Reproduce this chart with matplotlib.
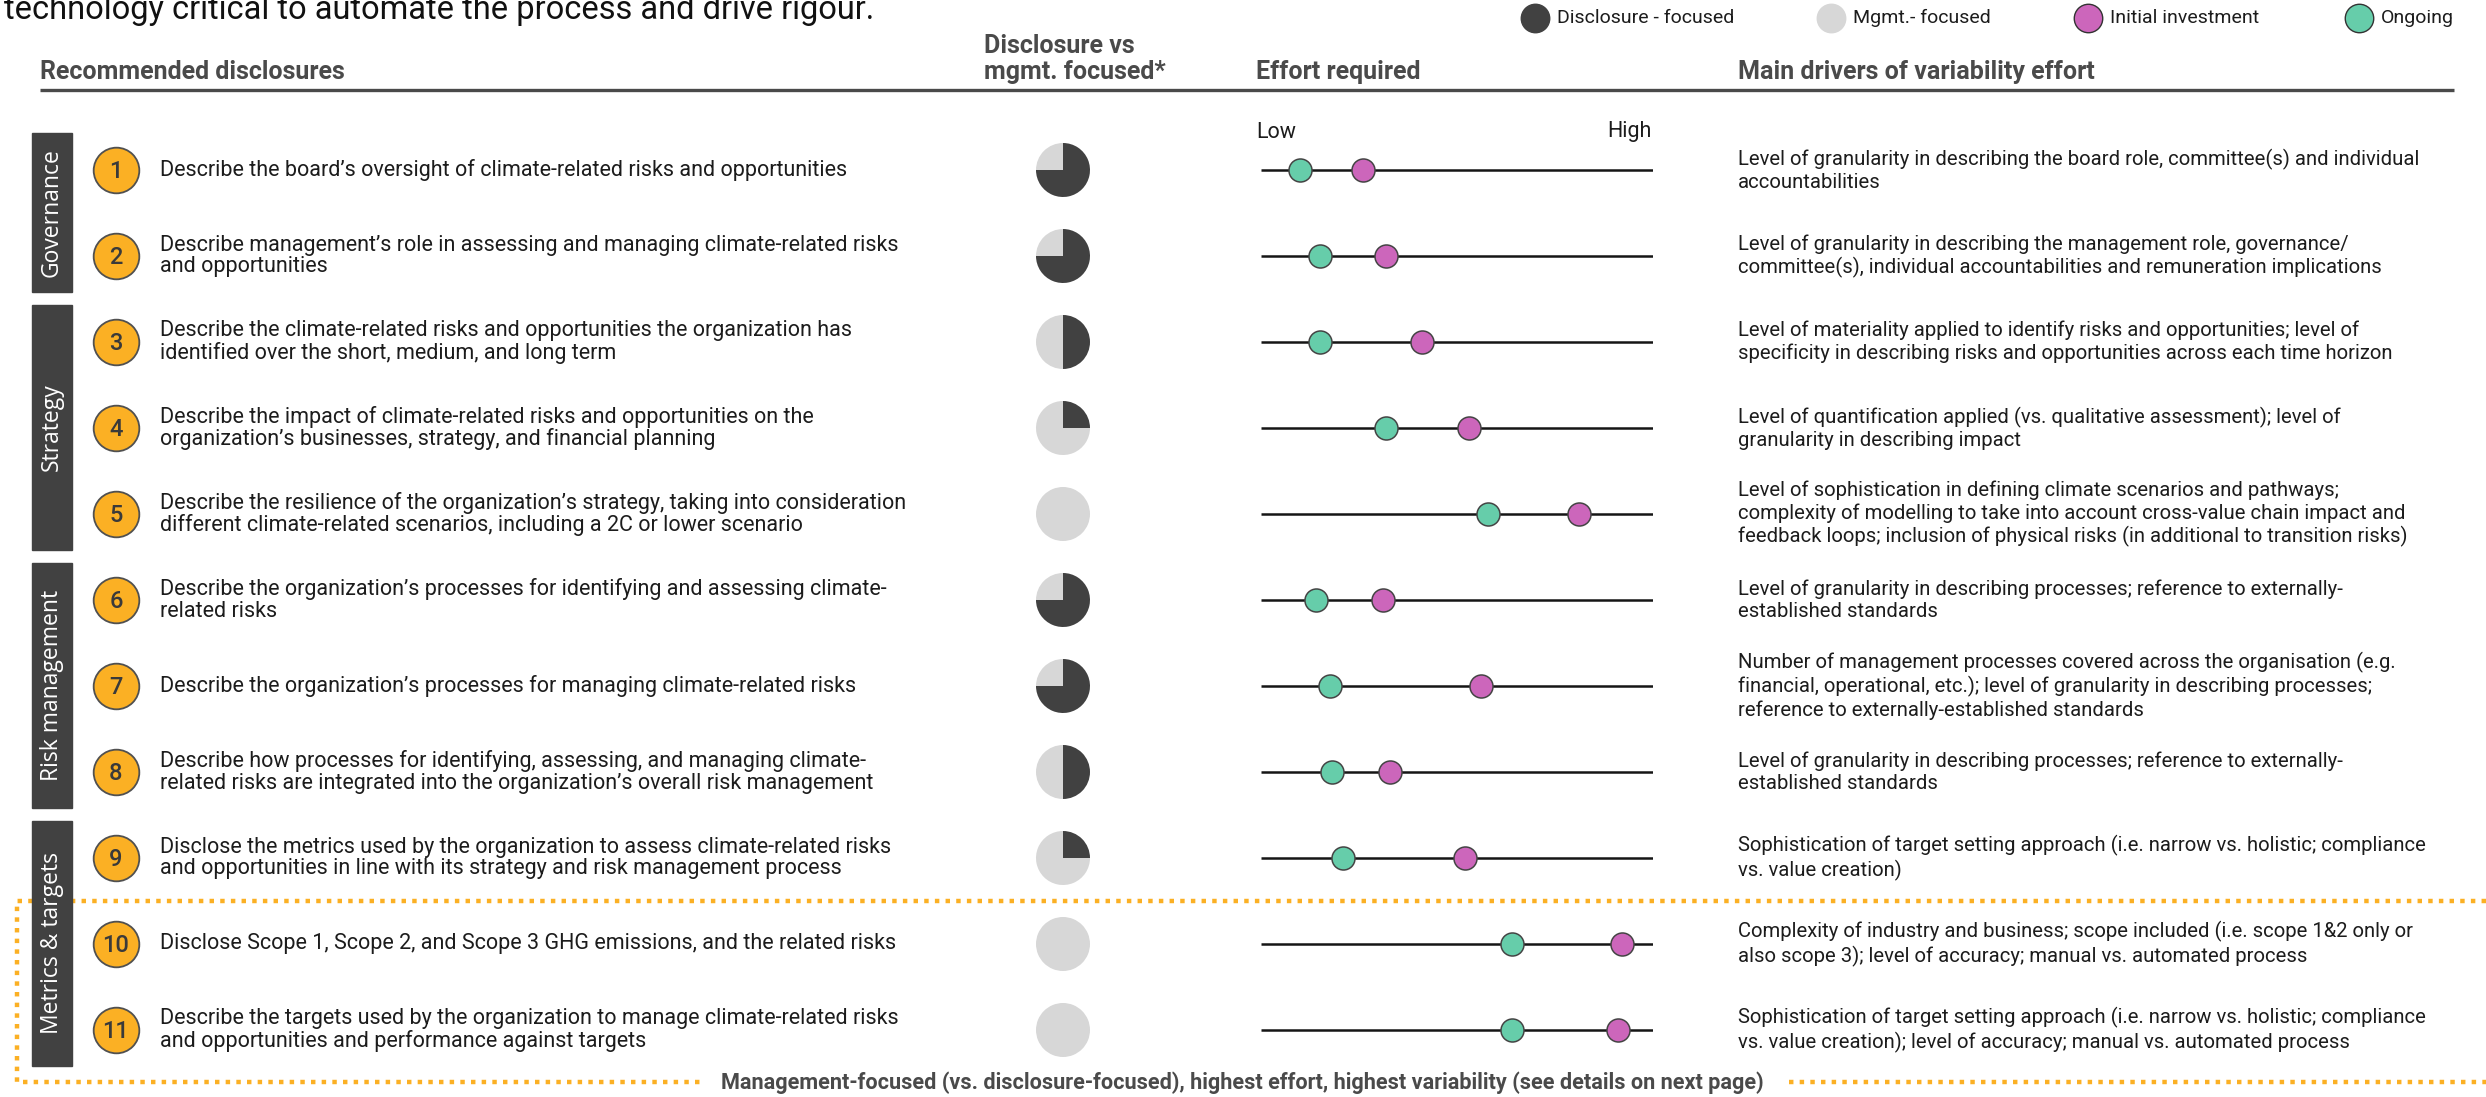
import matplotlib.pyplot as plt
from matplotlib.patches import Rectangle
import numpy as np

W, H = 2486, 1097

numbers = list(range(1, 12))
pillars = ["Governance", "Strategy", "Risk management", "Metrics & targets"]
pillar_rows = [(0, 1), (2, 4), (5, 7), (8, 10)]

disclosures = [
    "Describe the board’s oversight of climate-related risks and opportunities",
    "Describe management’s role in assessing and managing climate-related risks\nand opportunities",
    "Describe the climate-related risks and opportunities the organization has\nidentified over the short, medium, and long term",
    "Describe the impact of climate-related risks and opportunities on the\norganization’s businesses, strategy, and financial planning",
    "Describe the resilience of the organization’s strategy, taking into consideration\ndifferent climate-related scenarios, including a 2C or lower scenario",
    "Describe the organization’s processes for identifying and assessing climate-\nrelated risks",
    "Describe the organization’s processes for managing climate-related risks",
    "Describe how processes for identifying, assessing, and managing climate-\nrelated risks are integrated into the organization’s overall risk management",
    "Disclose the metrics used by the organization to assess climate-related risks\nand opportunities in line with its strategy and risk management process",
    "Disclose Scope 1, Scope 2, and Scope 3 GHG emissions, and the related risks",
    "Describe the targets used by the organization to manage climate-related risks\nand opportunities and performance against targets",
]

drivers = [
    "Level of granularity in describing the board role, committee(s) and individual\naccountabilities",
    "Level of granularity in describing the management role, governance/\ncommittee(s), individual accountabilities and remuneration implications",
    "Level of materiality applied to identify risks and opportunities; level of\nspecificity in describing risks and opportunities across each time horizon",
    "Level of quantification applied (vs. qualitative assessment); level of\ngranularity in describing impact",
    "Level of sophistication in defining climate scenarios and pathways;\ncomplexity of modelling to take into account cross-value chain impact and\nfeedback loops; inclusion of physical risks (in additional to transition risks)",
    "Level of granularity in describing processes; reference to externally-\nestablished standards",
    "Number of management processes covered across the organisation (e.g.\nfinancial, operational, etc.); level of granularity in describing processes;\nreference to externally-established standards",
    "Level of granularity in describing processes; reference to externally-\nestablished standards",
    "Sophistication of target setting approach (i.e. narrow vs. holistic; compliance\nvs. value creation)",
    "Complexity of industry and business; scope included (i.e. scope 1&2 only or\nalso scope 3); level of accuracy; manual vs. automated process",
    "Sophistication of target setting approach (i.e. narrow vs. holistic; compliance\nvs. value creation); level of accuracy; manual vs. automated process",
]

# share of disclosure-focused work (rest is mgmt.-focused)
disclosure_share = [0.75, 0.75, 0.5, 0.25, 0.0, 0.75, 0.75, 0.5, 0.25, 0.0, 0.0]
# effort on a 0 (low) .. 1 (high) scale
effort_ongoing = [0.10, 0.15, 0.15, 0.32, 0.58, 0.14, 0.175, 0.18, 0.21, 0.64, 0.64]
effort_initial = [0.26, 0.32, 0.41, 0.53, 0.81, 0.31, 0.56, 0.33, 0.52, 0.92, 0.91]

legend_labels = ["Disclosure - focused", "Mgmt.- focused", "Initial investment", "Ongoing"]

DARK = "#414141"
LIGHT = "#d7d7d7"
PINK = "#cc66bb"
GREEN = "#66cdaa"
ORANGE = "#fbb024"
HEAD = "#4a4a4a"
TXT = "#1c1c1c"

plt.rcParams['font.family'] = ['Roboto', 'DejaVu Sans']

fig = plt.figure(figsize=(W / 100, H / 100), dpi=100)
ax = fig.add_axes([0, 0, 1, 1])
ax.set_xlim(0, W)
ax.set_ylim(H, 0)
ax.axis('off')

row_y = 170 + 86 * np.arange(len(numbers))

# sentence carried over from the text above
ax.text(4, 19, "technology critical to automate the process and drive rigour.",
        fontsize=23.5, color="#111111", va='baseline')

# legend
leg_x = [1535, 1831, 2088, 2359]
leg_fc = [DARK, LIGHT, PINK, GREEN]
leg_ec = [DARK, LIGHT, "#333333", "#333333"]
for x, lab, fc, ec in zip(leg_x, legend_labels, leg_fc, leg_ec):
    ax.scatter(x, 18, s=420, c=fc, edgecolors=ec, linewidths=1.0, clip_on=False)
    ax.text(x + 22, 18, lab, fontsize=14, color=TXT, va='center')

# column headers
hkw = dict(fontsize=18, fontweight='bold', color=HEAD, va='baseline')
ax.text(40, 79, "Recommended disclosures", **hkw)
ax.text(984, 53, "Disclosure vs", **hkw)
ax.text(984, 79, "mgmt. focused*", **hkw)
ax.text(1256, 79, "Effort required", **hkw)
ax.text(1738, 79, "Main drivers of variability effort", **hkw)
ax.plot([40, 2454], [90, 90], color=HEAD, lw=2.4, solid_capstyle='butt')

ax.text(1256, 132, "Low", fontsize=15.5, color=TXT, va='center', ha='left')
ax.text(1652, 132, "High", fontsize=15.5, color=TXT, va='center', ha='right')

# highlight box around the management-focused disclosures
box_top = (row_y[8] + row_y[9]) / 2
dot_kw = dict(color=ORANGE, lw=3.2, linestyle=(0, (1.0, 1.4)), zorder=1)
ax.plot([W, 17, 17, 705], [box_top, box_top, 1082, 1082], **dot_kw)
ax.plot([1789, W], [1082, 1082], **dot_kw)
ax.text(1242, 1083, "Management-focused (vs. disclosure-focused), highest effort, "
        "highest variability (see details on next page)",
        fontsize=15.6, fontweight='bold', color=HEAD, ha='center', va='center')

# pillar bars
for (a, b), name in zip(pillar_rows, pillars):
    top = row_y[a] - 37
    bot = row_y[b] + 36
    ax.add_patch(Rectangle((32, top), 40, bot - top, color=DARK, zorder=2))
    ax.text(52, (top + bot) / 2, name, rotation=90, fontsize=16.5, color='white',
            ha='center', va='center', family=['Open Sans', 'DejaVu Sans'], zorder=3)

# numbered badges and disclosure text
ax.scatter(np.full(len(numbers), 116), row_y, s=1080, c=ORANGE,
           edgecolors="#505050", linewidths=1.3, zorder=3)
for y, n, txt, drv in zip(row_y, numbers, disclosures, drivers):
    ax.text(116, y + 1, str(n), fontsize=17, fontweight='medium', color="#3a3a3a",
            ha='center', va='center', zorder=4)
    ax.text(160, y, txt, fontsize=15.5, color=TXT, va='center', linespacing=1.05)
    ax.text(1738, y, drv, fontsize=14.6, color=TXT, va='center', linespacing=1.2)

# disclosure vs mgmt. pies (pie() pads limits to +-1.25, so radius 1.25 fills the box)
for y, share in zip(row_y, disclosure_share):
    pax = fig.add_axes([(1063 - 27) / W, 1 - (y + 27) / H, 54 / W, 54 / H])
    pax.pie([share, 1 - share], colors=[DARK, LIGHT], startangle=90, radius=1.25,
            counterclock=False, wedgeprops=dict(linewidth=0))
    pax.set_xlim(-1.25, 1.25)
    pax.set_ylim(-1.25, 1.25)
    pax.set_aspect('equal')

# effort scale
eax = fig.add_axes([1261 / W, 0, (1653 - 1261) / W, 1])
eax.set_xlim(0, 1)
eax.set_ylim(H, 0)
eax.axis('off')
eax.hlines(row_y, 0, 1, color="#151515", lw=1.8, zorder=1)
eax.scatter(effort_ongoing, row_y, s=275, c=GREEN, edgecolors="#444444",
            linewidths=1.1, zorder=3, clip_on=False)
eax.scatter(effort_initial, row_y, s=275, c=PINK, edgecolors="#444444",
            linewidths=1.1, zorder=3, clip_on=False)

fig.savefig("out.png", dpi=100)
